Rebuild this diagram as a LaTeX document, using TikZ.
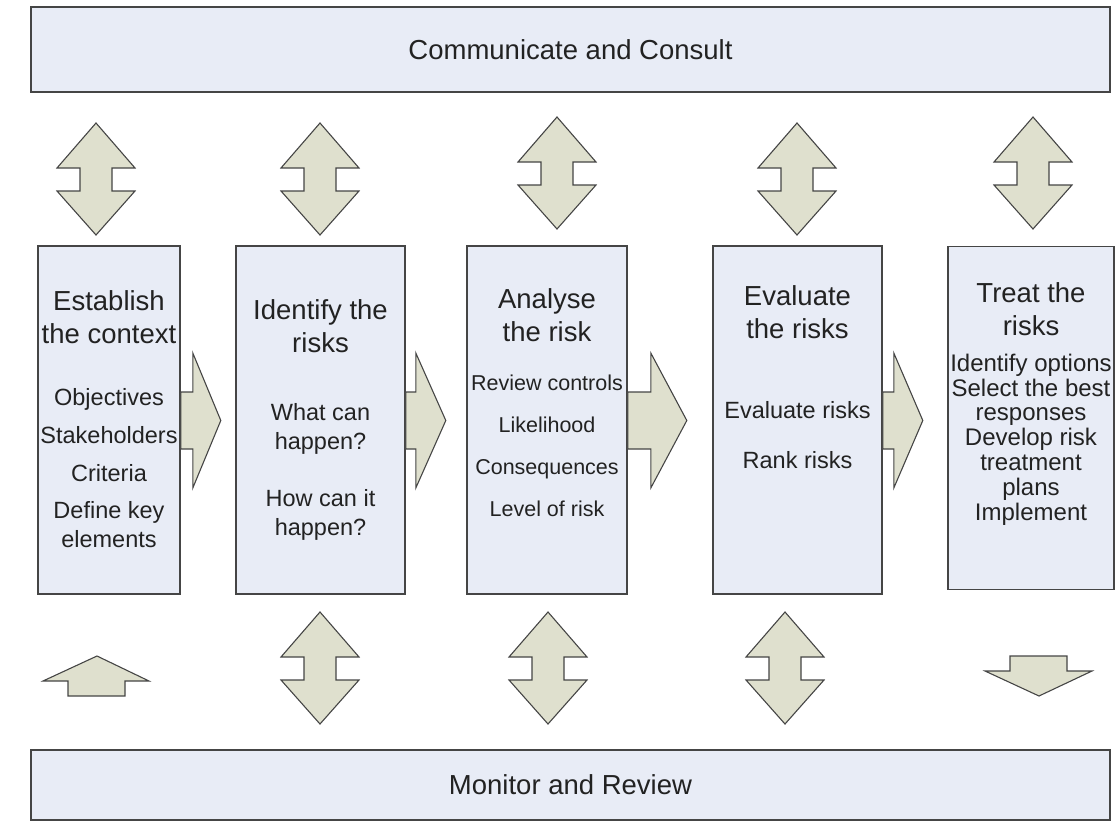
\documentclass[tikz,border=0pt]{standalone}
\usepackage{fontspec}
\setmainfont{Liberation Sans}

\definecolor{boxfill}{HTML}{E8ECF6}
\definecolor{arrowfill}{HTML}{DFE0CE}
\definecolor{edgegray}{HTML}{454545}
\definecolor{textgray}{HTML}{222222}

\tikzset{
    banner/.style={draw=edgegray, line width=1.6pt, fill=boxfill, inner sep=0pt,
        minimum width=1079pt, font=\fontsize{27.5}{33}\selectfont, text=textgray},
    stage/.style={draw=edgegray, line width=1.6pt, fill=boxfill, inner sep=0pt,
        minimum height=348pt},
    blockarrow/.style={draw=edgegray, line width=1.1pt, fill=arrowfill, line join=miter},
    % texts sit on the baseline of their last line
    heading/.style={align=center, anchor=base, inner sep=0pt, text=textgray,
        font=\fontsize{27.5}{33}\selectfont},
    items/.style={align=center, anchor=base, inner sep=0pt, text=textgray,
        font=\fontsize{23.5}{29}\selectfont}
}

\begin{document}
\begin{tikzpicture}[x=1pt, y=-1pt]
    \useasboundingbox (0,0) rectangle (1117,830);

    % Banners
    \node[banner, minimum height=85pt] (consult) at (570.5,49.5) {Communicate and Consult};
    \node[banner, minimum height=70pt] (monitor) at (570.5,785) {Monitor and Review};

    % Stages
    \node[stage, minimum width=142pt] (context) at (109,420) {};
    \node[stage, minimum width=169pt] (identify) at (320.5,420) {};
    \node[stage, minimum width=160pt] (analyse) at (547,420) {};
    \node[stage, minimum width=169pt] (evaluate) at (797.5,420) {};
    \node[stage, minimum width=166pt, minimum height=343pt] (treat) at (1031,418) {};

    % Stage texts
    \node[heading] (context-head) at (109,343) {Establish\\the context};
    \node[items] (context-list) at (109,547)
        {Objectives\\[9pt]Stakeholders\\[9pt]Criteria\\[8pt]Define key\\elements};

    \node[heading] (identify-head) at (320.5,352) {Identify the\\risks};
    \node[items] (identify-list) at (320.5,535)
        {What can\\happen?\\[28pt]How can it\\happen?};

    \node[heading] (analyse-head) at (547,341) {Analyse\\the risk};
    \node[items, font=\fontsize{21.5}{29}\selectfont] (analyse-list) at (547,516)
        {Review controls\\[13pt]Likelihood\\[13pt]Consequences\\[13pt]Level of risk};

    \node[heading] (evaluate-head) at (797.5,338) {Evaluate\\the risks};
    \node[items] (evaluate-list) at (797.5,468) {Evaluate risks\\[21pt]Rank risks};

    \node[heading] (treat-head) at (1031,335) {Treat the\\risks};
    \node[items, font=\fontsize{24}{24.8}\selectfont] (treat-list) at (1031,520)
        {Identify options\\Select the best\\responses\\Develop risk\\treatment\\plans\\Implement};

    % Forward arrows between the stages
    \foreach \from/\len/\tip in {context/12/28, identify/10/30, analyse/23/36, evaluate/11/29} {
        \draw[blockarrow] (\from.east) ++(0,-28) -- ++(\len,0) -- ++(0,-39) -- ++(\tip,67.5)
            -- ++(-\tip,67.5) -- ++(0,-39) -- ++(-\len,0) -- cycle;
    }

    % Two-headed arrows to and from the banners
    \foreach \x/\y in {96/123, 320/123, 557/117, 797/123, 1033/117, 320/612, 548/612, 785/612} {
        \draw[blockarrow] (\x,\y) -- ++(39,45) -- ++(-23,0) -- ++(0,23) -- ++(23,0) -- ++(-39,44)
            -- ++(-39,-44) -- ++(23,0) -- ++(0,-23) -- ++(-23,0) -- cycle;
    }

    % Up arrow into the first stage, down arrow out of the last
    \draw[blockarrow] (97,656) -- (149,681) -- (125,681) -- (125,696) -- (68,696) -- (68,681) -- (43,681) -- cycle;
    \draw[blockarrow] (1010,656) -- (1067,656) -- (1067,671) -- (1092,671) -- (1039,696) -- (985,671) -- (1010,671) -- cycle;
\end{tikzpicture}
\end{document}
